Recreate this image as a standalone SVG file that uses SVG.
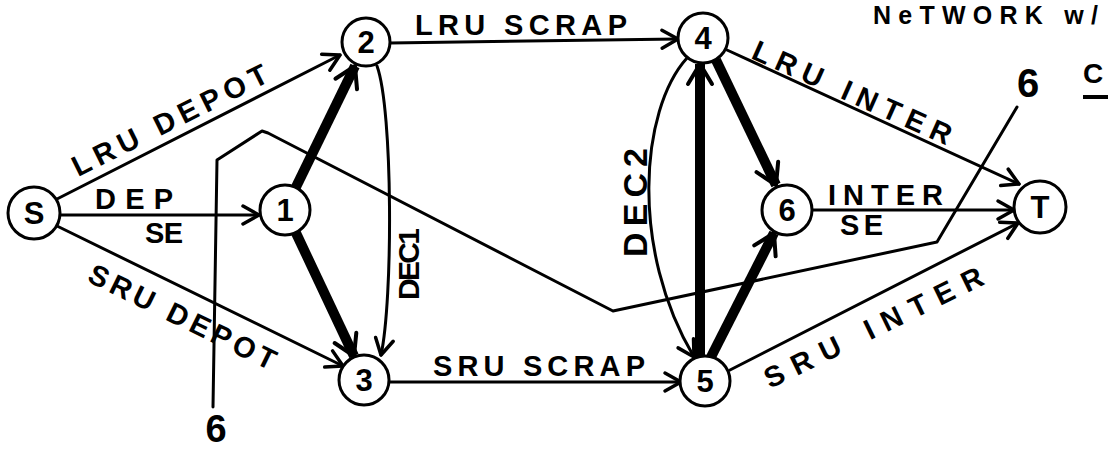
<svg xmlns="http://www.w3.org/2000/svg" width="1110" height="449" viewBox="0 0 1110 449">
<defs>
<style>
.node circle{fill:#fff;stroke:#000;stroke-width:3}
.node text{font-family:"Liberation Sans",Arial,sans-serif;font-size:31px;font-weight:bold;text-anchor:middle;fill:#000}
.edge{fill:none;stroke:#000;stroke-width:3;stroke-linecap:round}
.thick{fill:none;stroke:#000;stroke-width:10}
.lbl{font-family:"Liberation Sans",Arial,sans-serif;font-size:29px;font-weight:bold;fill:#000}
.cut{fill:none;stroke:#000;stroke-width:3;stroke-linejoin:round;stroke-linecap:round}
</style>
<marker id="arr" markerUnits="userSpaceOnUse" viewBox="-20 -12 24 24" refX="0" refY="0" markerWidth="24" markerHeight="24" orient="auto" overflow="visible">
<path d="M-16,-9 L0,0 L-16,9" fill="none" stroke="#000" stroke-width="3.5" stroke-linecap="round" stroke-linejoin="round"/>
</marker>
<marker id="arrT" markerUnits="userSpaceOnUse" viewBox="-24 -14 28 28" refX="0" refY="0" markerWidth="28" markerHeight="28" orient="auto" overflow="visible">
<path d="M-20,-12 L0,0 L-20,12" fill="none" stroke="#000" stroke-width="4" stroke-linecap="round" stroke-linejoin="round"/>
</marker>
</defs>
<rect width="1110" height="449" fill="#fff"/>

<g id="cut-line">
<polyline class="cut" points="213,407 217,160 262,131 268,133 613,311 937,242 1017,107"/>
<text class="lbl" x="216" y="442" text-anchor="middle" style="font-size:38px">6</text>
<text class="lbl" x="1028" y="97" text-anchor="middle" style="font-size:40px">6</text>
</g>

<g id="connectors">
<line class="edge" x1="60" y1="215" x2="259" y2="215" marker-end="url(#arr)"/>
<line class="edge" x1="57" y1="199" x2="340" y2="55" marker-end="url(#arr)"/>
<line class="edge" x1="57" y1="226" x2="343" y2="366" marker-end="url(#arr)"/>
<line class="thick" x1="296" y1="187" x2="355" y2="66" marker-end="url(#arrT)"/>
<line class="thick" x1="296" y1="233" x2="354" y2="356" marker-end="url(#arrT)"/>
<path class="edge" d="M377,66 C393,110 393,300 381,355" marker-end="url(#arr)"/>
<line class="edge" x1="390" y1="43" x2="678" y2="39" marker-end="url(#arr)"/>
<line class="edge" x1="389" y1="382" x2="681" y2="382" marker-end="url(#arr)"/>
<line class="thick" x1="700" y1="357" x2="700" y2="64" marker-end="url(#arrT)"/>
<path class="edge" d="M687,58 C640,110 630,250 694,357" marker-end="url(#arr)"/>
<line class="thick" x1="716" y1="60" x2="776" y2="185" marker-end="url(#arrT)"/>
<line class="thick" x1="711" y1="357" x2="774" y2="233" marker-end="url(#arrT)"/>
<line class="edge" x1="727" y1="50" x2="1019" y2="184" marker-end="url(#arr)"/>
<line class="edge" x1="812" y1="210" x2="1014" y2="210" marker-end="url(#arr)"/>
<line class="edge" x1="730" y1="370" x2="1018" y2="223" marker-end="url(#arr)"/>

<text class="lbl" transform="translate(78,177) rotate(-26.5)" textLength="215" lengthAdjust="spacing">LRU DEPOT</text>
<text class="lbl" x="95" y="209" textLength="78" lengthAdjust="spacing">DEP</text>
<text class="lbl" x="145" y="243" textLength="38" lengthAdjust="spacing">SE</text>
<text class="lbl" transform="translate(86,281) rotate(26)" textLength="205" lengthAdjust="spacing">SRU DEPOT</text>
<text class="lbl" x="415" y="35" textLength="212" lengthAdjust="spacing">LRU SCRAP</text>
<text class="lbl" x="433" y="376" textLength="212" lengthAdjust="spacing">SRU SCRAP</text>
<text class="lbl" transform="translate(419,300) rotate(-90)" textLength="72" lengthAdjust="spacing" style="font-size:30px">DEC1</text>
<text class="lbl" transform="translate(647,257) rotate(-90)" textLength="109" lengthAdjust="spacing" style="font-size:34px">DEC2</text>
<text class="lbl" transform="translate(750,58) rotate(24)" textLength="215" lengthAdjust="spacing">LRU INTER</text>
<text class="lbl" x="828" y="205" textLength="115" lengthAdjust="spacing">INTER</text>
<text class="lbl" x="840" y="235" textLength="43" lengthAdjust="spacing">SE</text>
<text class="lbl" transform="translate(770,389) rotate(-26)" textLength="240" lengthAdjust="spacing">SRU INTER</text>
</g>

<g id="node-S" class="node"><circle cx="34" cy="213" r="26"/><text x="34" y="224">S</text></g>
<g id="node-1" class="node"><circle cx="285" cy="210" r="25"/><text x="285" y="221">1</text></g>
<g id="node-2" class="node"><circle cx="366" cy="42" r="24"/><text x="366" y="53">2</text></g>
<g id="node-3" class="node"><circle cx="364" cy="380" r="25"/><text x="364" y="391">3</text></g>
<g id="node-4" class="node"><circle cx="703" cy="38" r="25"/><text x="703" y="49">4</text></g>
<g id="node-5" class="node"><circle cx="705" cy="381" r="25"/><text x="705" y="392">5</text></g>
<g id="node-6" class="node"><circle cx="787" cy="210" r="25"/><text x="787" y="221">6</text></g>
<g id="node-T" class="node"><circle cx="1040" cy="207" r="26"/><text x="1040" y="218">T</text></g>

<g id="title">
<text class="lbl" x="873" y="24" textLength="225" lengthAdjust="spacing" style="font-size:25px">NeTWORK w/</text>
<text class="lbl" x="1083" y="83" style="font-size:28px">C</text>
<line x1="1083" y1="97" x2="1108" y2="97" stroke="#000" stroke-width="4"/>
</g>
</svg>
